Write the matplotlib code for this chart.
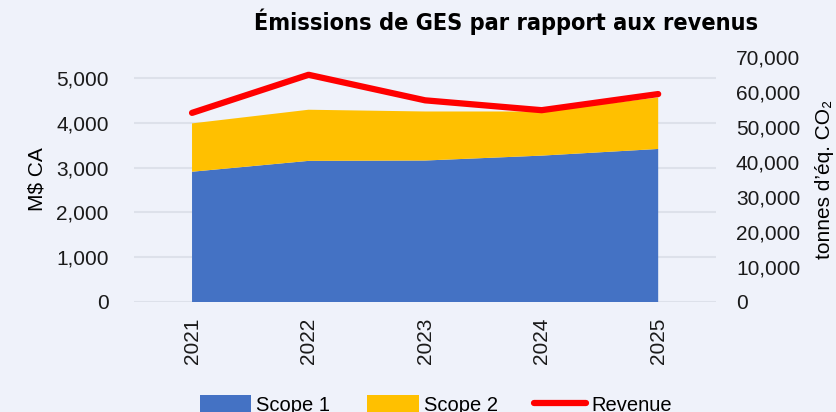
import matplotlib
matplotlib.use("Agg")
import matplotlib.pyplot as plt
from matplotlib.ticker import FuncFormatter, FixedLocator

# Données
years = ["2021", "2022", "2023", "2024", "2025"]
scope1 = [37200, 40300, 40400, 41800, 43700]   # tonnes d'éq. CO2
scope2 = [13800, 14600, 14000, 12600, 14700]   # tonnes d'éq. CO2
revenue = [4220, 5070, 4500, 4280, 4640]       # M$ CA

bg = '#EFF2FA'
colors = ['#4472C4', '#FFC000', '#FF0000']

plt.rcParams['font.family'] = ['Liberation Sans', 'DejaVu Sans']

fig = plt.figure(figsize=(8.36, 4.12), dpi=100, facecolor=bg)
ax = fig.add_axes([0.160, 0.267, 0.697, 0.595])
ax.set_facecolor(bg)
ax2 = ax.twinx()

x = list(range(len(years)))

# Aires empilées (axe de droite)
ax2.stackplot(x, scope1, scope2, colors=colors[:2], labels=['Scope 1', 'Scope 2'], zorder=2)
ax2.set_ylim(0, 70000)
ax2.yaxis.set_major_locator(FixedLocator(range(0, 70001, 10000)))

# Revenus (axe de gauche), dessiné par-dessus
ax.set_zorder(ax2.get_zorder() + 1)
ax.patch.set_visible(False)
ax2.patch.set_visible(True)
ax2.patch.set_facecolor(bg)
ax.plot(x, revenue, color=colors[2], linewidth=4.5, solid_capstyle='round',
        solid_joinstyle='round', label='Revenue', zorder=3)
ax.set_ylim(0, 5470)
ax.yaxis.set_major_locator(FixedLocator(range(0, 5001, 1000)))
ax.set_xlim(-0.5, 4.5)
ax.set_xticks(x)
ax.set_xticklabels(years, rotation=90, fontsize=15)

fmt = FuncFormatter(lambda v, p: f'{int(v):,}')
ax.yaxis.set_major_formatter(fmt)
ax2.yaxis.set_major_formatter(fmt)

# Grille de l'axe de gauche
for v in range(0, 5001, 1000):
    ax2.axhline(v * 70000 / 5470, color='#DDE1EA', linewidth=1.5, zorder=1)

for a in (ax, ax2):
    for s in a.spines.values():
        s.set_visible(False)
    a.tick_params(length=0, labelsize=15, colors='#1a1a1a')
ax.tick_params(axis='y', pad=18)
ax.tick_params(axis='x', pad=11.5, labelsize=15)
ax2.tick_params(axis='y', pad=14)

ax.set_ylabel('M$ CA', fontsize=15, labelpad=7)
ax2.set_ylabel('tonnes d’éq. CO₂', fontsize=15, labelpad=11)

fig.text(0.605, 0.947, 'Émissions de GES par rapport aux revenus', ha='center', va='center',
         fontsize=16.8, fontweight='bold', fontstretch='condensed', family=['DejaVu Sans'])

h2, l2 = ax2.get_legend_handles_labels()
h1, l1 = ax.get_legend_handles_labels()
fig.legend(h2 + h1, l2 + l1, loc='center', bbox_to_anchor=(0.521, 0.017), ncol=3, frameon=False,
           fontsize=14.5, handlelength=2.58, handletextpad=0.25, columnspacing=1.8, handleheight=0.9)

fig.savefig('out.png', dpi=100, facecolor=bg)
